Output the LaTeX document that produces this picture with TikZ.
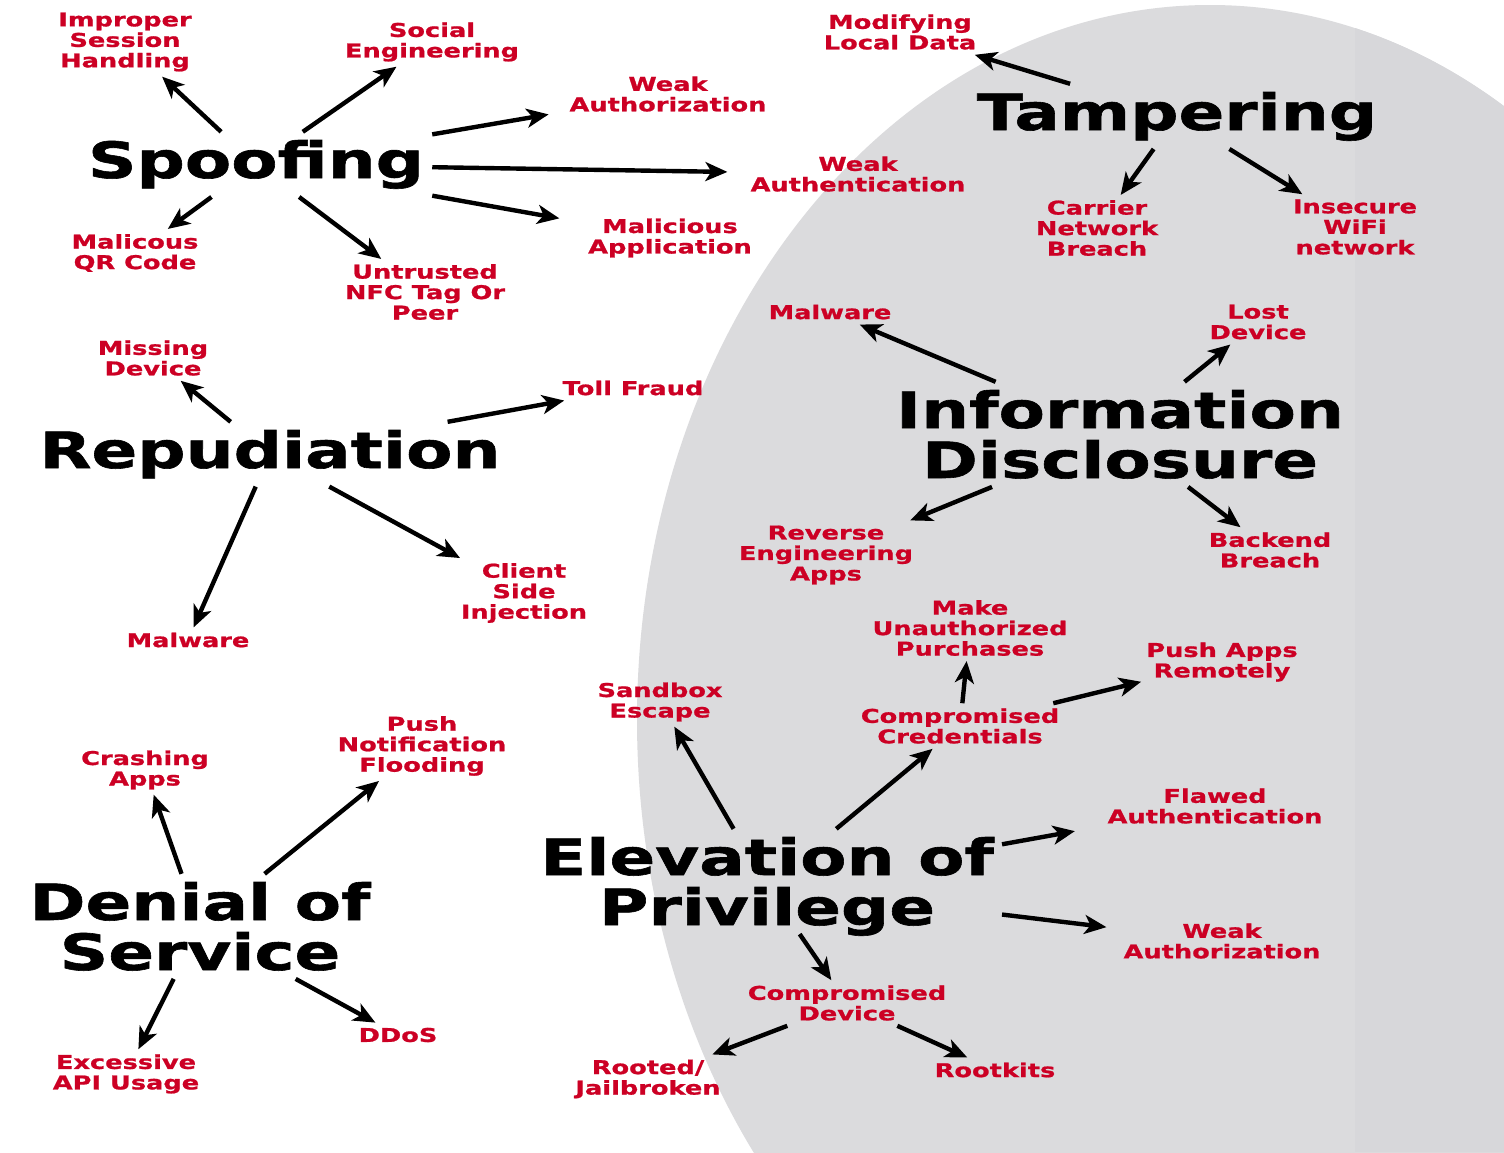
\documentclass[tikz,border=0pt]{standalone}
\usepackage{fontspec}
\usetikzlibrary{arrows.meta}
\newfontfamily\titlefont[FakeStretch=1.35,FakeBold=1.2]{DejaVu Sans Bold}
\newfontfamily\labelfont[FakeStretch=1.35,FakeBold=1]{DejaVu Sans Bold}
\definecolor{thred}{RGB}{204,0,36}
\definecolor{elgray}{RGB}{219,219,221}
\definecolor{bandgray}{RGB}{215,215,218}
\tikzset{
  title/.style={font=\titlefont\fontsize{50}{50}\selectfont, text=black, align=center, inner sep=8pt, anchor=base},
  lbl/.style={font=\labelfont\fontsize{19}{20.5}\selectfont, text=thred, align=center, inner sep=5pt},
  arr/.style={-{Stealth[length=22pt,width=19pt,inset=6pt]}, line width=4.4pt, black},
}
\begin{document}
\begin{tikzpicture}[x=1pt,y=-1pt]
\useasboundingbox (0,0) rectangle (1504,1152);
\fill[white] (0,0) rectangle (1504,1152);
\begin{scope}
  \clip (0,0) rectangle (1504,1152);
  \fill[elgray] (1210,720) ellipse [x radius=573pt, y radius=715pt];
  \clip (1210,720) ellipse [x radius=573pt, y radius=715pt];
  \fill[bandgray] (1355,0) rectangle (1504,1152);
\end{scope}

% Spoofing
\node[title] (sp) at (256,178) {Spoofing};
\node[lbl] (sp1) at (125,42) {Improper\\Session\\Handling};
\node[lbl] (sp2) at (432,42) {Social\\Engineering};
\node[lbl] (sp3) at (668,94) {Weak\\Authorization};
\node[lbl] (sp4) at (858,174) {Weak\\Authentication};
\node[lbl] (sp5) at (670,238) {Malicious\\Application};
\node[lbl] (sp6) at (425,292) {Untrusted\\NFC Tag Or\\Peer};
\node[lbl] (sp7) at (135,253) {Malicous\\QR Code};
\draw[arr] (sp) -- (sp1);
\draw[arr] (sp) -- (sp2);
\draw[arr, shorten >=16pt] (sp) -- (sp3);
\draw[arr, shorten >=18pt] (sp) -- (sp4);
\draw[arr, shorten >=24pt] (sp) -- (sp5);
\draw[arr] (sp) -- (sp6);
\draw[arr] (sp) -- (sp7);

% Tampering
\node[title] (ta) at (1177,130) {Tampering};
\node[lbl] (ta1) at (900,32) {Modifying\\Local Data};
\node[lbl] (ta2) at (1097,228) {Carrier\\Network\\Breach};
\node[lbl] (ta3) at (1355,227) {Insecure\\WiFi\\network};
\draw[arr] (ta) -- (ta1);
\draw[arr] (ta) -- (ta2);
\draw[arr] (ta) -- (ta3);

% Information Disclosure
\node[title] (id) at (1120,478) {Information\\Disclosure};
\node[lbl] (id1) at (830,312) {Malware};
\node[lbl] (id2) at (1258,322) {Lost\\Device};
\node[lbl] (id3) at (826,555) {Reverse\\Engineering\\Apps};
\node[lbl] (id4) at (1270,550) {Backend\\Breach};
\draw[arr] (id) -- (id1);
\draw[arr] (id) -- (id2);
\draw[arr] (id) -- (id3);
\draw[arr] (id) -- (id4);

% Repudiation
\node[title] (re) at (270,468) {Repudiation};
\node[lbl] (re1) at (153,358) {Missing\\Device};
\node[lbl] (re2) at (633,388) {Toll Fraud};
\node[lbl] (re3) at (188,640) {Malware};
\node[lbl] (re4) at (524,593) {Client\\Side\\Injection};
\draw[arr] (re) -- (re1);
\draw[arr] (re) -- (re2);
\draw[arr] (re) -- (re3);
\draw[arr] (re) -- (re4);

% Denial of Service
\node[title] (ds) at (200,970) {Denial of\\Service};
\node[lbl] (ds1) at (145,770) {Crashing\\Apps};
\node[lbl] (ds2) at (422,746) {Push\\Notification\\Flooding};
\node[lbl] (ds3) at (126,1074) {Excessive\\API Usage};
\node[lbl] (ds4) at (398,1035) {DDoS};
\draw[arr] (ds) -- (ds1);
\draw[arr] (ds) -- (ds2);
\draw[arr] (ds) -- (ds3);
\draw[arr] (ds) -- (ds4);

% Elevation of Privilege
\node[title] (ep) at (767,925) {Elevation of\\Privilege};
\node[lbl] (ep1) at (660,702) {Sandbox\\Escape};
\node[lbl] (ep2) at (960,726) {Compromised\\Credentials};
\node[lbl] (ep3) at (970,628) {Make\\Unauthorized\\Purchases};
\node[lbl] (ep4) at (1222,662) {Push Apps\\Remotely};
\node[lbl] (ep5) at (1215,806) {Flawed\\Authentication};
\node[lbl] (ep6) at (1222,941) {Weak\\Authorization};
\node[lbl] (ep7) at (847,1003) {Compromised\\Device};
\node[lbl] (ep8) at (648,1079) {Rooted/\\Jailbroken};
\node[lbl] (ep9) at (995,1070) {Rootkits};
\draw[arr] (ep) -- (ep1);
\draw[arr] (ep) -- (ep2);
\draw[arr] (ep2) -- (ep3);
\draw[arr] (ep2) -- (ep4);
\draw[arr, shorten >=28pt] (ep) -- (ep5);
\draw[arr, shorten >=12pt] (ep) -- (ep6);
\draw[arr, shorten <=-12pt] (ep) -- (ep7);
\draw[arr] (ep7) -- (ep8);
\draw[arr] (ep7) -- (ep9);
\end{tikzpicture}
\end{document}
